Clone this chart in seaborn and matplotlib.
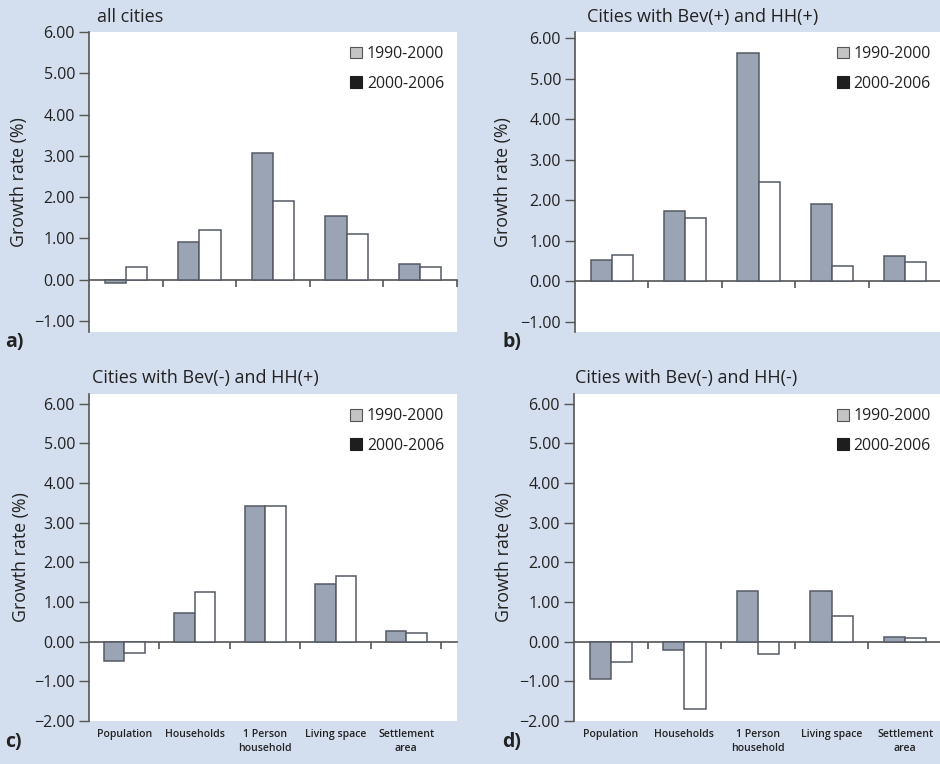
import numpy as np
import pandas as pd
import matplotlib
matplotlib.use("Agg")
import matplotlib.pyplot as plt
from matplotlib.patches import Patch
import seaborn as sns

# --- data ---
categories = ["Population", "Households", "1 Person\nhousehold", "Living space", "Settlement\narea"]
periods = ["1990-2000", "2000-2006"]

all_90 = [-0.09, 0.91, 3.07, 1.53, 0.38]
all_00 = [0.31, 1.19, 1.90, 1.11, 0.31]

bpos_hpos_90 = [0.54, 1.74, 5.64, 1.90, 0.62]
bpos_hpos_00 = [0.64, 1.57, 2.45, 0.37, 0.48]

bneg_hpos_90 = [-0.50, 0.71, 3.41, 1.44, 0.26]
bneg_hpos_00 = [-0.28, 1.26, 3.41, 1.65, 0.22]

bneg_hneg_90 = [-0.93, -0.20, 1.28, 1.28, 0.12]
bneg_hneg_00 = [-0.51, -1.69, -0.31, 0.64, 0.10]

titles = ["all cities", "Cities with Bev(+) and HH(+)",
          "Cities with Bev(-) and HH(+)", "Cities with Bev(-) and HH(-)"]
panel_tags = ["a)", "b)", "c)", "d)"]
yticks_top = [-1, 0, 1, 2, 3, 4, 5, 6]
yticks_bottom = [-2, -1, 0, 1, 2, 3, 4, 5, 6]

BG = "#d3deef"
BAR = "#97a3b8"
EDGE = "#555a64"
SPINE = "#555555"
TXT = "#222222"

sns.set_theme(style="white")
plt.rcParams["font.family"] = ["Open Sans", "DejaVu Sans"]
plt.rcParams["text.color"] = TXT
plt.rcParams["axes.labelcolor"] = TXT
plt.rcParams["xtick.color"] = TXT
plt.rcParams["ytick.color"] = TXT

W, H = 940, 764
fig = plt.figure(figsize=(W / 100, H / 100), dpi=100, facecolor=BG)


def px_axes(left, top, right, bottom):
    return fig.add_axes([left / W, 1 - bottom / H, (right - left) / W, (bottom - top) / H])


# (left, top, right, bottom) in pixels, ylim, xlim, yticks
layout = [
    ((89, 32, 457, 332), (-1.27, 6.0), (-0.5, 4.5), yticks_top),
    ((575, 32, 942, 332), (-1.25, 6.16), (-0.5, 4.5), yticks_top),
    ((89, 394, 457, 721), (-2.0, 6.24), (-0.5, 4.72), yticks_bottom),
    ((574, 394, 942, 721), (-2.0, 6.24), (-0.5, 4.5), yticks_bottom),
]
series = [(all_90, all_00), (bpos_hpos_90, bpos_hpos_00),
          (bneg_hpos_90, bneg_hpos_00), (bneg_hneg_90, bneg_hneg_00)]

title_pos = [(97, 17), (587, 17), (92, 378), (575, 378)]
tag_pos = [(5, 342), (502, 342), (5, 742), (502, 742)]
ylabel_x = [28, 512, 30, 513]

for i, ((box, ylim, xlim, yt), (v90, v00)) in enumerate(zip(layout, series)):
    ax = px_axes(*box)
    ax.set_facecolor("white")

    df = pd.DataFrame({
        "category": categories * 2,
        "period": [periods[0]] * 5 + [periods[1]] * 5,
        "value": v90 + v00,
    })
    sns.barplot(data=df, x="category", y="value", hue="period", order=categories,
                hue_order=periods, palette={periods[0]: BAR, periods[1]: "white"},
                width=0.575, edgecolor=EDGE, linewidth=1.1, ax=ax, legend=False)

    ax.set_ylim(*ylim)
    ax.set_xlim(*xlim)
    ax.set_yticks(yt)
    ax.set_yticklabels([f"{t:.2f}".replace("-", "\u2212") for t in yt], fontsize=11.5)
    ax.tick_params(axis="y", direction="out", length=7, width=1, color=SPINE, pad=3, left=True)

    for s in ["top", "right"]:
        ax.spines[s].set_visible(False)
    ax.spines["left"].set_color(SPINE)
    ax.spines["left"].set_linewidth(1.2)
    ax.spines["bottom"].set_visible(False)

    # zero line with boundary ticks
    zero_frac = (0 - ylim[0]) / (ylim[1] - ylim[0])
    sec = ax.secondary_xaxis(zero_frac)
    sec.set_xticks(np.arange(len(categories)) + 0.5)
    sec.set_xticklabels([])
    sec.spines["bottom"].set_color(SPINE)
    sec.spines["bottom"].set_linewidth(1.2)
    sec.tick_params(direction="out", length=5, width=1.2, color=SPINE)

    ax.set_xlabel("")
    if i >= 2:
        ax.set_xticks(range(len(categories)))
        ax.set_xticklabels(categories, fontsize=7.6, fontweight="semibold", linespacing=1.3)
        ax.tick_params(axis="x", length=0, pad=6)
    else:
        ax.set_xticks([])

    ax.set_ylabel("Growth rate (%)", fontsize=12.8)
    ax.yaxis.set_label_coords((ylabel_x[i] - box[0]) / (box[2] - box[0]), 0.5)

    handles = [Patch(facecolor="#c4c4c4", edgecolor="#555555", linewidth=0.8),
               Patch(facecolor="#1e1e1e", edgecolor="#1e1e1e", linewidth=0.8)]
    ax.legend(handles, periods, loc="upper right", bbox_to_anchor=(0.995, 0.99) if i % 2 == 0 else (1.0, 0.99),
              frameon=False, fontsize=11.4, handlelength=0.75, handleheight=0.75,
              handletextpad=0.3, labelspacing=0.85, borderaxespad=0.3)

    tx, ty = title_pos[i]
    fig.text(tx / W, 1 - ty / H, titles[i], fontsize=13, ha="left", va="center")
    gx, gy = tag_pos[i]
    fig.text(gx / W, 1 - gy / H, panel_tags[i], fontsize=14, fontweight="bold", ha="left", va="center")

fig.savefig("out.png", dpi=100, facecolor=BG)
